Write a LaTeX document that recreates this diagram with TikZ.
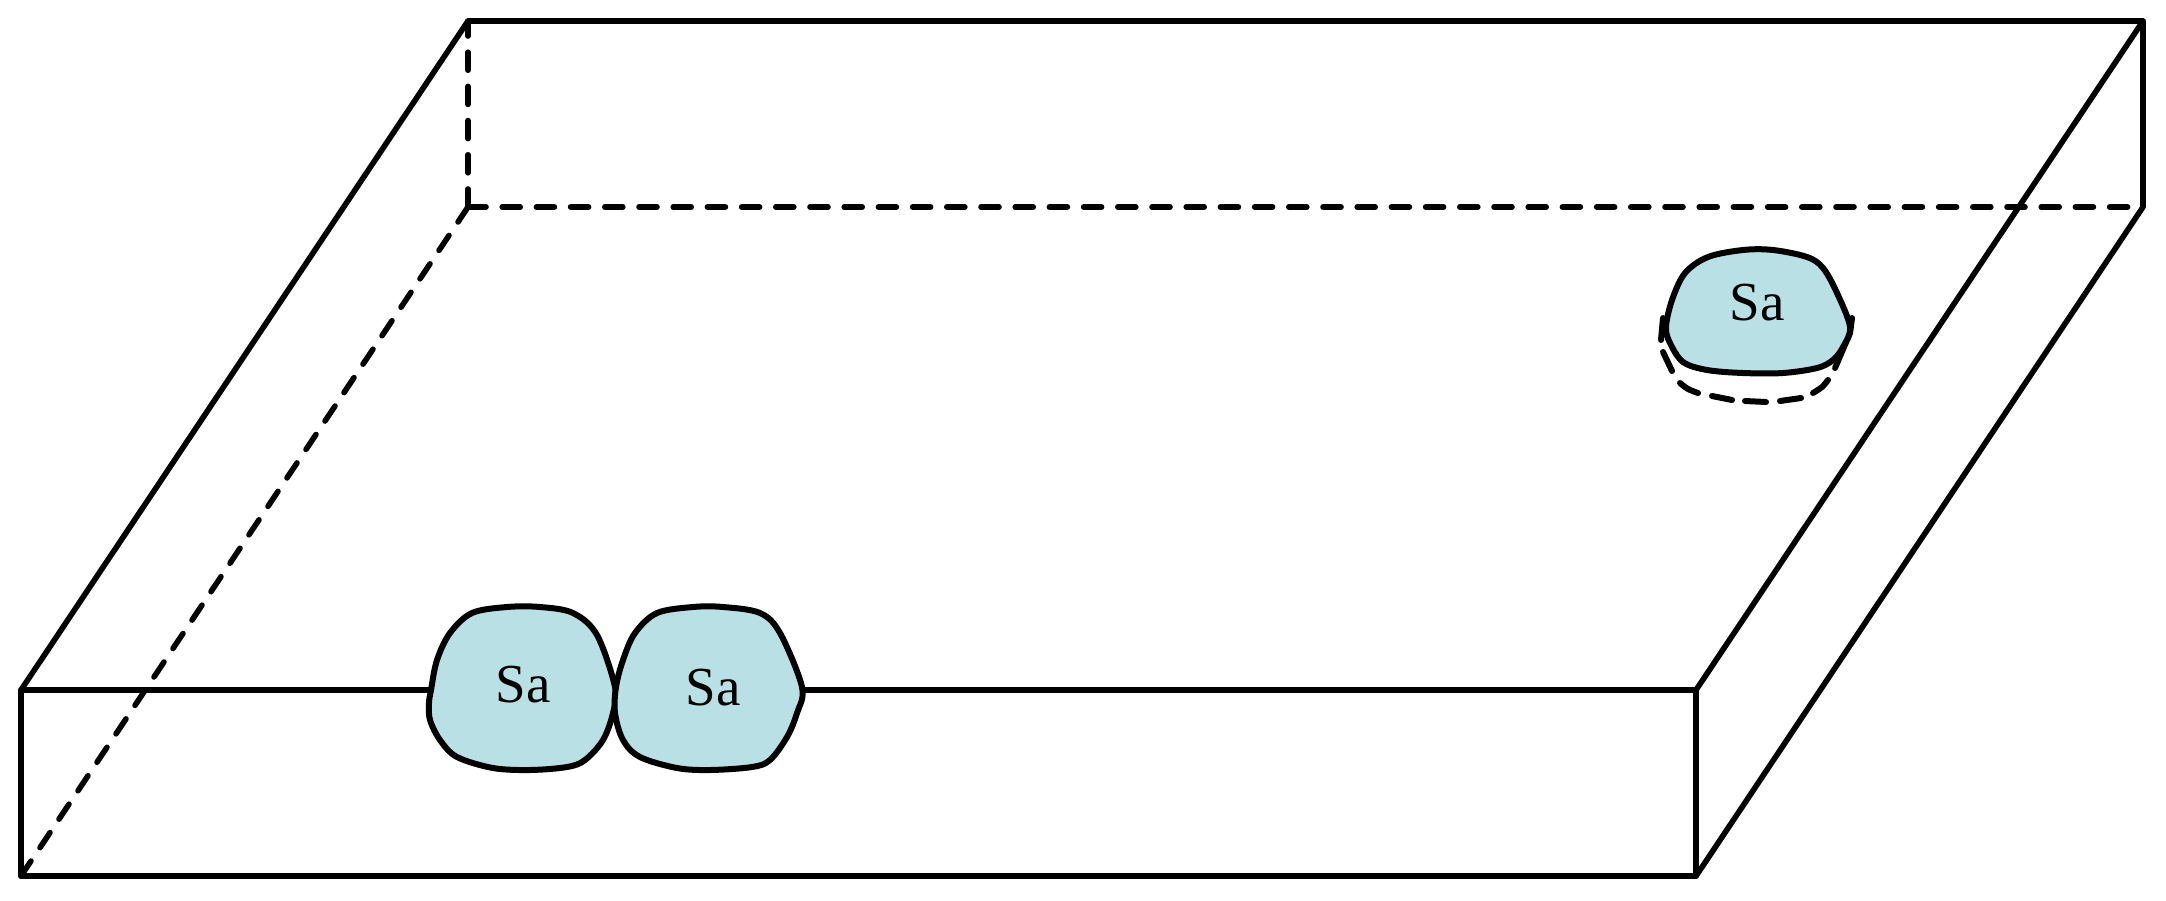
\documentclass[tikz,border=0pt]{standalone}
\usepackage{fontspec}
\setmainfont{Liberation Serif}
\definecolor{blobfill}{HTML}{B9E0E4}
\tikzset{
  edge/.style={line width=2.8pt,line join=round,line cap=round,black},
  hidden/.style={edge,dash pattern=on 9pt off 8.1pt},
  blob/.style={line width=3pt,fill=blobfill,draw=black,line join=round},
  under/.style={line width=3pt,line cap=round,black},
  label/.style={font=\fontsize{27.5pt}{30pt}\selectfont,inner sep=0pt,text=black}
}
\begin{document}
\begin{tikzpicture}[x=0.5pt,y=-0.5pt]
\useasboundingbox (0,0) rectangle (2166,900);
\coordinate (fltop) at (21,690);
\coordinate (flbot) at (21,876);
\coordinate (frtop) at (1696,690);
\coordinate (frbot) at (1696,876);
\coordinate (bltop) at (468,21);
\coordinate (blbot) at (468,207);
\coordinate (brtop) at (2143,21);
\coordinate (brbot) at (2143,207);
% hidden edges
\draw[hidden] (blbot) -- (bltop);
\draw[hidden] (blbot) -- (brbot);
\draw[hidden] (blbot) -- (flbot);
% visible edges
\draw[edge] (flbot) -- (fltop) -- (frtop) -- (frbot) -- cycle;
\draw[edge] (fltop) -- (bltop) -- (brtop) -- (frtop);
\draw[edge] (brtop) -- (brbot) -- (frbot);
% blob 1
\draw[blob] plot[smooth cycle,tension=0.55] coordinates {
 (431,690) (437,660) (450,633) (472,613) (507,607) (540,607) (573,613) (597,635)
 (615,687) (613,713) (603,740) (585,760) (567,767) (530,770) (493,768) (457,757)
 (440,740) (430,720) (429,703)};
% blob 2
\draw[blob] plot[smooth cycle,tension=0.55] coordinates {
 (616,687) (623,660) (635,633) (657,613) (693,607) (723,607) (760,613) (780,633)
 (802,687) (797,713) (787,737) (770,760) (752,767) (710,770) (677,768) (640,757)
 (623,740) (615,713)};
% hidden underside of blob 3
\draw[under] (1663,318) -- (1661,340);
\draw[under] (1663,352) -- (1672,371);
\draw[under] plot[smooth,tension=0.5] coordinates {(1680,383) (1688,389) (1698,393)};
\draw[under] (1712,396) -- (1732,400);
\draw[under] (1745,401) -- (1766,402);
\draw[under] (1780,401) -- (1801,398);
\draw[under] plot[smooth,tension=0.5] coordinates {(1813,393) (1822,387) (1828,380)};
\draw[under] (1835,368) -- (1850,333) -- (1852,318);
% blob 3
\draw[blob] plot[smooth cycle,tension=0.55] coordinates {
 (1666,327) (1672,300) (1685,273) (1708,257) (1743,250) (1773,250) (1807,257) (1823,268)
 (1837,293) (1850,327) (1843,347) (1833,360) (1817,368) (1783,373) (1743,373) (1707,370)
 (1683,362) (1670,343)};
% labels
\node[label] (sa1) at (523,685) {Sa};
\node[label] (sa2) at (713,688) {Sa};
\node[label] (sa3) at (1757,303) {Sa};
\end{tikzpicture}
\end{document}
